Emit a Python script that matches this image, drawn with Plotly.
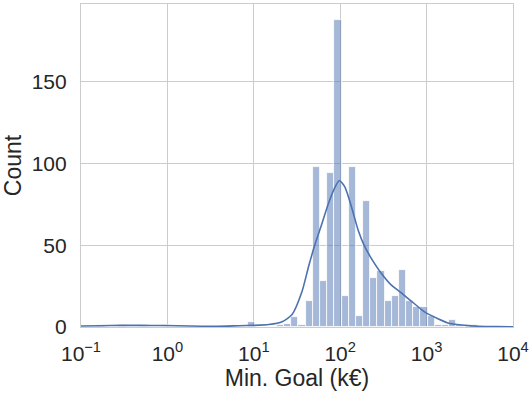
import numpy as np
import plotly.graph_objects as go

# Histogram of minimum funding goals (k€), binned uniformly in log10 space
first_edge_log = 1.932        # log10 of the left edge of bin index 0
bin_width_log = 0.0831        # bin width in decades
bin_index = [-33, -30, -27, -24, -12, -8, -7, -6, -5, -4, -3, -2, -1, 0, 1, 2, 3, 4,
             5, 6, 7, 8, 9, 10, 11, 12, 13, 14, 15, 16, 17, 19]
counts = [1, 1, 1, 1, 3, 1, 2, 6, 1, 16, 98, 28, 94, 188, 19, 98, 7, 77,
          30, 34, 16, 19, 35, 16, 12, 12, 7, 1, 1, 4, 1, 1]

# Kernel density estimate (scaled to counts), sampled along log10(goal)
kde_log = [-1.0, -0.77, -0.54, -0.32, -0.03, 0.26, 0.55, 0.83, 1.0, 1.175, 1.328,
           1.443, 1.557, 1.634, 1.711, 1.787, 1.864, 1.940, 1.990, 2.055, 2.131,
           2.208, 2.284, 2.36, 2.475, 2.589, 2.704, 2.819, 2.972, 3.125, 3.27,
           3.45, 3.6, 3.8, 4.0]
kde_count = [0.6, 0.8, 1.0, 1.0, 0.9, 0.6, 0.45, 0.8, 1.0, 1.5, 3.2,
             7.6, 21.5, 37.0, 51.0, 63.0, 75.5, 85.5, 89.6, 85.5, 73.4,
             59.2, 49.1, 42.0, 32.9, 25.8, 21.0, 16.0, 9.4, 5.2, 2.1,
             1.0, 0.5, 0.2, 0.05]

x_tick_exp = [-1, 0, 1, 2, 3, 4]
y_ticks = [0, 50, 100, 150]

x_title = "Min. Goal (k€)"
y_title = "Count"

BLUE = "#4C72B0"
GRID = "#cccccc"
TEXT = "#262626"
FONT = "Liberation Sans, Arial, sans-serif"

edges = first_edge_log + np.array(bin_index) * bin_width_log
centers = edges + bin_width_log / 2

fig = go.Figure()
fig.add_trace(go.Bar(
    x=centers, y=counts, width=bin_width_log,
    marker=dict(color="rgba(76,114,176,0.5)", line=dict(color="white", width=0.8)),
    hoverinfo="skip",
))
fig.add_trace(go.Scatter(
    x=kde_log, y=kde_count, mode="lines",
    line=dict(color=BLUE, width=1.6, shape="spline", smoothing=0.6),
    hoverinfo="skip",
))

axis_common = dict(
    showgrid=True, gridcolor=GRID, gridwidth=1,
    showline=True, linecolor=GRID, linewidth=1.2, mirror=True,
    zeroline=False, ticks="",
    tickfont=dict(family=FONT, size=21, color=TEXT),
)

fig.update_layout(
    width=532, height=399,
    margin=dict(l=81, r=16, t=3, b=72),
    paper_bgcolor="white", plot_bgcolor="white",
    showlegend=False, bargap=0,
    font=dict(family=FONT, color=TEXT),
    xaxis=dict(
        range=[-1, 4],
        tickvals=x_tick_exp,
        ticktext=[f"10<sup>{'−' if e < 0 else ''}{abs(e)}</sup>" for e in x_tick_exp],
        title=dict(text=x_title, font=dict(family=FONT, size=23, color=TEXT), standoff=5),
        ticklabelstandoff=8,
        **axis_common,
    ),
    yaxis=dict(
        range=[0, 197.5],
        tickvals=y_ticks,
        title=dict(text=y_title, font=dict(family=FONT, size=23, color=TEXT), standoff=4),
        ticklabelstandoff=9,
        **axis_common,
    ),
)

fig.write_html("out.html")
